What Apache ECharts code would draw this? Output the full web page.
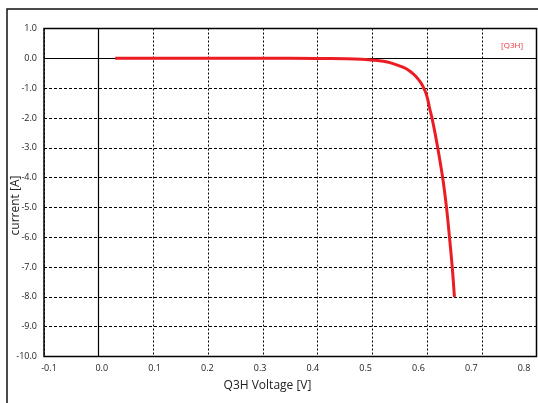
<!DOCTYPE html>
<html>
<head>
<meta charset="utf-8">
<style>
  html, body { margin: 0; padding: 0; background: #fff; }
  #chart { width: 538px; height: 403px; }
</style>
<script src="https://cdn.jsdelivr.net/npm/echarts@6/dist/echarts.min.js"></script>
</head>
<body>
<div id="chart"></div>
<script>
// Q3H I-V curve
var voltage = [0.03, 0.10, 0.20, 0.30, 0.40, 0.45, 0.48, 0.50, 0.52, 0.535, 0.552, 0.562, 0.570, 0.577, 0.583, 0.589, 0.594, 0.598, 0.6015, 0.605, 0.609, 0.6145, 0.6195, 0.6285, 0.6355, 0.641, 0.646, 0.650];
var current = [0, 0, 0, 0, -0.005, -0.015, -0.03, -0.06, -0.1, -0.16, -0.27, -0.35, -0.45, -0.56, -0.68, -0.83, -1.0, -1.17, -1.4, -1.7, -2.0, -2.5, -3.0, -4.0, -5.0, -6.0, -7.0, -8.0];
var seriesName = 'Q3H';

var FONT = '"Open Sans", sans-serif';

var chart = echarts.init(document.getElementById('chart'));

var points = voltage.map(function (v, i) { return [v, current[i]]; });

var tickFmt = function (v) { return v.toFixed(1); };

chart.setOption({
    animation: false,
    textStyle: { fontFamily: FONT },
    graphic: [{
        type: 'rect',
        shape: { x: 7, y: 9, width: 620, height: 500 },
        style: { fill: 'none', stroke: '#111', lineWidth: 1.5 },
        z: -10,
        silent: true
    }],
    legend: {
        right: 10,
        top: 34,
        icon: 'none',
        itemWidth: 0,
        itemGap: 0,
        formatter: '[{name}]',
        textStyle: { color: '#ee2f3c', fontSize: 8, fontFamily: FONT }
    },
    grid: [{
        left: 44,
        right: 1.5,
        top: 28.5,
        bottom: 46.5,
        outerBoundsMode: 'none',
        containLabel: false,
        show: true,
        borderColor: '#000',
        borderWidth: 1.5,
        backgroundColor: 'transparent'
    }, {
        // the x tick labels sit on a slightly narrower scale in the original
        left: 49,
        right: 14,
        top: 28.5,
        bottom: 46.5,
        outerBoundsMode: 'none',
        containLabel: false,
        show: false
    }],
    xAxis: [{
        type: 'value',
        min: -0.1,
        max: 0.8,
        interval: 0.1,
        axisLine: { show: false },
        axisTick: { show: false },
        axisLabel: { show: false },
        splitLine: { lineStyle: { color: '#000', type: [2, 2], width: 1 } }
    }, {
        type: 'value',
        gridIndex: 1,
        min: -0.1,
        max: 0.8,
        interval: 0.1,
        name: 'Q3H Voltage [V]',
        nameLocation: 'middle',
        nameGap: 23,
        nameMoveOverlap: false,
        nameTextStyle: { fontSize: 12, color: '#222', padding: [0, 38, 0, 0], fontFamily: FONT },
        axisLine: { show: false },
        axisTick: { show: false },
        axisLabel: { fontSize: 9, color: '#222', margin: 7, formatter: tickFmt },
        splitLine: { show: false }
    }],
    yAxis: [{
        type: 'value',
        min: -10,
        max: 1,
        interval: 1,
        name: 'current [A]',
        nameLocation: 'middle',
        nameGap: 22,
        nameMoveOverlap: false,
        nameTextStyle: { fontSize: 12, color: '#222', padding: [0, 26, 0, 0], fontFamily: FONT },
        axisLine: { show: false },
        axisTick: { show: false },
        axisLabel: { fontSize: 9, color: '#222', margin: 7, formatter: tickFmt },
        splitLine: { lineStyle: { color: '#000', type: [3, 2], width: 1 } }
    }, {
        type: 'value',
        gridIndex: 1,
        min: -10,
        max: 1,
        interval: 1,
        show: false
    }],
    series: [{
        name: seriesName,
        type: 'line',
        data: points,
        smooth: 0.35,
        showSymbol: false,
        lineStyle: { color: '#ec1c24', width: 3 },
        itemStyle: { color: '#ec1c24' },
        markLine: {
            silent: true,
            symbol: 'none',
            label: { show: false },
            lineStyle: { color: '#000', type: 'solid', width: 1.2 },
            data: [{ xAxis: 0 }, { yAxis: 0 }]
        },
        z: 5
    }]
});
</script>
</body>
</html>
